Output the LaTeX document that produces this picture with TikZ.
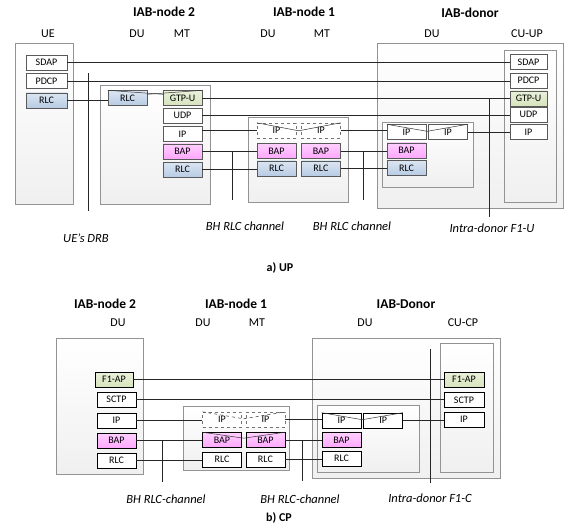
\documentclass[tikz,border=0pt]{standalone}
\usepackage{fontspec}
\setmainfont{Carlito}
\usepackage{tikz}
\usetikzlibrary{positioning, calc, shadows}
\definecolor{rlcblue}{RGB}{184,204,228}
\definecolor{bappink}{RGB}{255,168,255}
\definecolor{gtpgreen}{RGB}{215,228,189}
\tikzset{layer/.style={rectangle,draw=black!65,fill=white,minimum width=39pt,minimum height=15pt,inner sep=0pt,font=\fontsize{10}{10}\selectfont},
         cplayer/.style={layer,draw=black,line width=0.6pt},
         rlc/.style={layer,top color=rlcblue!50,bottom color=rlcblue},
         bap/.style={layer,top color=bappink!55,bottom color=bappink},
         gtp/.style={layer,top color=gtpgreen!55,bottom color=gtpgreen},
         ghost/.style={layer,draw=black!55,dashed},
         entity/.style={draw=gray!85,top color=white,bottom color=gray!12,drop shadow={shadow xshift=1.2pt,shadow yshift=-1.2pt,opacity=0.25}},
         title/.style={font=\fontsize{13.5}{15}\selectfont\bfseries},
         sublabel/.style={font=\fontsize{12}{13}\selectfont},
         caption/.style={font=\fontsize{12.5}{14}\selectfont\itshape},
         link/.style={draw=black!85,line width=0.75pt},
         tunnel/.style={draw=black!80,line width=0.5pt}}

\begin{document}
\begin{tikzpicture}[x=1pt,y=-1pt,node distance=3pt]
    \useasboundingbox (0,0) rectangle (565,527);
    % ---------------- a) UP ----------------
    \draw[entity] (15,43) rectangle (73,204);
    \draw[entity] (100,85) rectangle (210,204);
    \draw[entity] (248,117) rectangle (348,202);
    \draw[entity] (377,43) rectangle (563,208);
    \draw[entity] (382,122) rectangle (473,187);
    \draw[entity] (504,50) rectangle (556,202);
    \node (up-n2) [title] at (164,12) {IAB-node 2};
    \node (up-n1) [title] at (304,12) {IAB-node 1};
    \node (up-d) [title] at (470,13) {IAB-donor};
    \node (up-ue) [sublabel] at (48,34) {UE};
    \node (up-n2du) [sublabel] at (137,34) {DU};
    \node (up-n2mt) [sublabel] at (182,34) {MT};
    \node (up-n1du) [sublabel] at (268,34) {DU};
    \node (up-n1mt) [sublabel] at (322,34) {MT};
    \node (up-ddu) [sublabel] at (432,34) {DU};
    \node (up-cu) [sublabel] at (527,34) {CU-UP};
    % UE stack
    \node (ue-sdap) [layer, minimum width=41pt] at (46.5,62.5) {SDAP};
    \node (ue-pdcp) [layer, minimum width=41pt, below=of ue-sdap] {PDCP};
    \node (ue-rlc) [rlc, minimum width=41pt, below=4pt of ue-pdcp] {RLC};
    % IAB-node 2
    \node (n2du-rlc) [rlc] at (127.5,98) {RLC};
    \node (n2mt-gtp) [gtp] at (182.5,98) {GTP-U};
    \node (n2mt-udp) [layer, below=2pt of n2mt-gtp] {UDP};
    \node (n2mt-ip) [layer, below=of n2mt-udp] {IP};
    \node (n2mt-bap) [bap, below=2pt of n2mt-ip] {BAP};
    \node (n2mt-rlc) [rlc, below=of n2mt-bap] {RLC};
    % IAB-node 1
    \node (n1du-ip) [ghost] at (276.5,130.5) {IP};
    \node (n1mt-ip) [ghost, right=5pt of n1du-ip] {IP};
    \node (n1du-bap) [bap, below=5pt of n1du-ip] {BAP};
    \node (n1mt-bap) [bap, below=5pt of n1mt-ip] {BAP};
    \node (n1du-rlc) [rlc, below=2pt of n1du-bap] {RLC};
    \node (n1mt-rlc) [rlc, below=2pt of n1mt-bap] {RLC};
    % IAB-donor DU and CU-UP
    \node (dd-ip) [layer] at (406.5,132) {IP};
    \node (dd-ip2) [layer, right=2pt of dd-ip] {IP};
    \node (dd-bap) [bap, below=of dd-ip] {BAP};
    \node (dd-rlc) [rlc, below=2pt of dd-bap] {RLC};
    \node (cu-sdap) [layer, minimum width=37pt] at (528.5,62) {SDAP};
    \node (cu-pdcp) [layer, minimum width=37pt, below=of cu-sdap] {PDCP};
    \node (cu-gtp) [gtp, minimum width=37pt, below=2.5pt of cu-pdcp] {GTP-U};
    \node (cu-udp) [layer, minimum width=37pt, below=0.5pt of cu-gtp] {UDP};
    \node (cu-ip) [layer, minimum width=37pt, below=2.5pt of cu-udp] {IP};
    % peer links
    \draw[link] (ue-sdap.east) -- (ue-sdap.east -| cu-sdap.west);
    \draw[link] (ue-pdcp.east) -- (ue-pdcp.east -| cu-pdcp.west);
    \draw[link] (ue-rlc.east) -- (ue-rlc.east -| n2du-rlc.west);
    \draw[link] (n2mt-gtp.east) -- (n2mt-gtp.east -| cu-gtp.west);
    \draw[link] (n2mt-udp.east) -- (n2mt-udp.east -| cu-udp.west);
    \draw[link] (n2mt-ip.east |- n1du-ip.west) -- (n1du-ip.west);
    \draw[link] (n1mt-ip.east) -- (n1mt-ip.east -| dd-ip.west);
    \draw[link] (dd-ip2.east |- cu-ip.west) -- (cu-ip.west);
    \draw[link] (n2mt-bap.east) -- (n2mt-bap.east -| n1du-bap.west);
    \draw[link] (n1mt-bap.east) -- (n1mt-bap.east -| dd-bap.west);
    \draw[link] (n2mt-rlc.east) -- (n2mt-rlc.east -| n1du-rlc.west);
    \draw[link] (n1mt-rlc.east) -- (n1mt-rlc.east -| dd-rlc.west);
    % relay marks over the boxes
    \draw[tunnel] (n2du-rlc.north west) -- ([yshift=-4pt]n2mt-gtp.north west);
    \draw[tunnel] ([yshift=-4pt]n2du-rlc.north east) -- (n2mt-gtp.north east);
    \draw[tunnel] (n1du-ip.north west) -- ($(n1du-ip.north east)!0.5!(n1mt-ip.north west)+(0,8)$) -- (n1mt-ip.north east);
    \draw[tunnel] (dd-ip.north west) -- ($(dd-ip.north east)!0.5!(dd-ip2.north west)+(0,7)$) -- (dd-ip2.north east);
    % channel markers
    \coordinate (drb-top) at (88,73);
    \coordinate (drb-bot) at (88,211);
    \coordinate (bh1) at (232,200);
    \coordinate (bh2) at (363,200);
    \coordinate (f1u) at (489,217);
    \draw[link] (drb-top) -- (drb-bot);
    \draw[link] (bh1 |- n2mt-bap.east) -- (bh1);
    \draw[link] (bh2 |- n1mt-bap.east) -- (bh2);
    \draw[link] (f1u |- cu-gtp.west) -- (f1u);
    \node (drb-l) [caption] at (86,238) {UE’s DRB};
    \node (bh1-l) [caption] at (245,226) {BH RLC channel};
    \node (bh2-l) [caption] at (352,226) {BH RLC channel};
    \node (f1u-l) [caption] at (492,228) {Intra-donor F1-U};
    \node (up-cap) [title, font=\fontsize{12}{13}\selectfont\bfseries] at (280,268) {a) UP};
    % ---------------- b) CP ----------------
    \draw[entity] (56,338) rectangle (143,474);
    \draw[entity] (183,406) rectangle (289,470);
    \draw[entity] (312,338) rectangle (500,478);
    \draw[entity] (317,405) rectangle (419,472);
    \draw[entity] (440,343) rectangle (493,472);
    \node (cp-n2) [title] at (105,304) {IAB-node 2};
    \node (cp-n1) [title] at (236,304) {IAB-node 1};
    \node (cp-d) [title] at (406,304) {IAB-Donor};
    \node (cp-n2du) [sublabel] at (118,323) {DU};
    \node (cp-n1du) [sublabel] at (203,323) {DU};
    \node (cp-n1mt) [sublabel] at (257,323) {MT};
    \node (cp-ddu) [sublabel] at (365,323) {DU};
    \node (cp-cu) [sublabel] at (463,323) {CU-CP};
    % IAB-node 2
    \node (c2-f1ap) [gtp, draw=black, line width=0.6pt, minimum width=38pt] at (114,379.5) {F1-AP};
    \node (c2-sctp) [cplayer] at (116.5,399.5) {SCTP};
    \node (c2-ip) [cplayer, below=5.5pt of c2-sctp] {IP};
    \node (c2-bap) [bap, draw=black, line width=0.6pt, below=4.5pt of c2-ip] {BAP};
    \node (c2-rlc) [cplayer, below=4pt of c2-bap] {RLC};
    % IAB-node 1
    \node (c1du-ip) [ghost] at (222,419.5) {IP};
    \node (c1mt-ip) [ghost, right=4pt of c1du-ip] {IP};
    \node (c1du-bap) [bap, draw=black, line width=0.6pt, below=5pt of c1du-ip] {BAP};
    \node (c1mt-bap) [bap, draw=black, line width=0.6pt, below=5pt of c1mt-ip] {BAP};
    \node (c1du-rlc) [cplayer, below=4pt of c1du-bap] {RLC};
    \node (c1mt-rlc) [cplayer, below=4pt of c1mt-bap] {RLC};
    % IAB-Donor DU and CU-CP
    \node (cd-ip) [cplayer] at (341.5,420.5) {IP};
    \node (cd-ip2) [cplayer, right=2pt of cd-ip] {IP};
    \node (cd-bap) [bap, draw=black, line width=0.6pt, below=4pt of cd-ip] {BAP};
    \node (cd-rlc) [cplayer, below=3pt of cd-bap] {RLC};
    \node (cc-f1ap) [gtp, draw=black, line width=0.6pt, minimum width=40pt] at (464,379.5) {F1-AP};
    \node (cc-sctp) [cplayer, minimum width=40pt, below=5pt of cc-f1ap] {SCTP};
    \node (cc-ip) [cplayer, minimum width=40pt, below=4pt of cc-sctp] {IP};
    % peer links
    \draw[link] (c2-f1ap.east) -- (c2-f1ap.east -| cc-f1ap.west);
    \draw[link] (c2-sctp.east) -- (c2-sctp.east -| cc-sctp.west);
    \draw[link] (c2-ip.east) -- (c2-ip.east -| c1du-ip.west);
    \draw[link] (c1mt-ip.east) -- (c1mt-ip.east -| cd-ip.west);
    \draw[link] (cd-ip2.east) -- (cd-ip2.east -| cc-ip.west);
    \draw[link] (c2-bap.east) -- (c2-bap.east -| c1du-bap.west);
    \draw[link] (c1mt-bap.east) -- (c1mt-bap.east -| cd-bap.west);
    \draw[link] (c2-rlc.east) -- (c2-rlc.east -| c1du-rlc.west);
    \draw[link] (c1mt-rlc.east) -- (c1mt-rlc.east -| cd-rlc.west);
    % relay marks over the boxes
    \draw[tunnel, dashed] (c1du-ip.north west) -- ($(c1du-ip.north east)!0.5!(c1mt-ip.north west)+(0,7)$) -- (c1mt-ip.north east);
    \draw[tunnel] (c1du-bap.north west) -- ($(c1du-bap.north east)!0.5!(c1mt-bap.north west)+(0,6)$) -- (c1mt-bap.north east);
    \draw[tunnel] (cd-ip.north west) -- ($(cd-ip.north east)!0.5!(cd-ip2.north west)+(0,7)$) -- (cd-ip2.north east);
    % channel markers
    \coordinate (cbh1) at (162,482);
    \coordinate (cbh2) at (302,481);
    \coordinate (f1c-top) at (430,349);
    \coordinate (f1c-bot) at (430,483);
    \draw[link] (cbh1 |- c2-bap.east) -- (cbh1);
    \draw[link] (cbh2 |- c1mt-bap.east) -- (cbh2);
    \draw[link] (f1c-top) -- (f1c-bot);
    \node (cbh1-l) [caption] at (166,499) {BH RLC-channel};
    \node (cbh2-l) [caption] at (300,499) {BH RLC-channel};
    \node (f1c-l) [caption] at (430,498) {Intra-donor F1-C};
    \node (cp-cap) [title, font=\fontsize{12}{13}\selectfont\bfseries] at (279,518) {b) CP};
\end{tikzpicture}
\end{document}
